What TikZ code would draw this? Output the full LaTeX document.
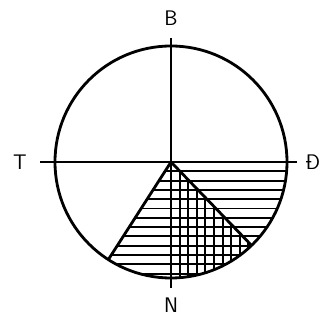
\documentclass[tikz,border=0pt]{standalone}
\usepackage{tikz}
\usetikzlibrary{positioning, calc}

\begin{document}
\begin{tikzpicture}[x=0.03cm, y=0.03cm, every node/.style={font=\sffamily\fontsize{18}{18}\selectfont, inner sep=0pt}]
    \tikzstyle{rim} = [line width=2.4pt]
    \tikzstyle{axis} = [line width=1.6pt]
    \tikzstyle{hatch} = [line width=1.6pt]

    \useasboundingbox (-171,-158) rectangle (159,162);

    % centre and sector edges
    \coordinate (O) at (0,0);
    \coordinate (sw) at (-122.7:116);
    \coordinate (se) at (-46:116);

    % horizontal hatching
    \begin{scope}
        \clip (O) -- (sw) arc[start angle=-122.7, end angle=0, radius=116] -- cycle;
        \foreach \k in {1,...,13}
            \draw[hatch] (-120,-\k*9.3) -- (120,-\k*9.3);
    \end{scope}

    % vertical hatching
    \begin{scope}
        \clip (O) -- (0,-116) arc[start angle=-90, end angle=-46, radius=116] -- cycle;
        \foreach \k in {1,...,10}
            \draw[hatch] (\k*8.6,0) -- (\k*8.6,-120);
    \end{scope}

    % circle and sector edges
    \draw[rim] (O) circle (116);
    \draw[rim] (sw) -- (O) -- (se);

    % axes
    \coordinate (top) at (0,124);
    \coordinate (bottom) at (0,-126);
    \coordinate (left) at (-131,0);
    \coordinate (right) at (126,0);
    \draw[axis] (top) -- (bottom);
    \draw[axis] (left) -- (right);

    % labels
    \node (b) at (0,144) {B};
    \node (n) at (0,-143) {N};
    \node (t) at (-151,0) {T};
    \node (d) at (142,0) {Đ};
\end{tikzpicture}
\end{document}
